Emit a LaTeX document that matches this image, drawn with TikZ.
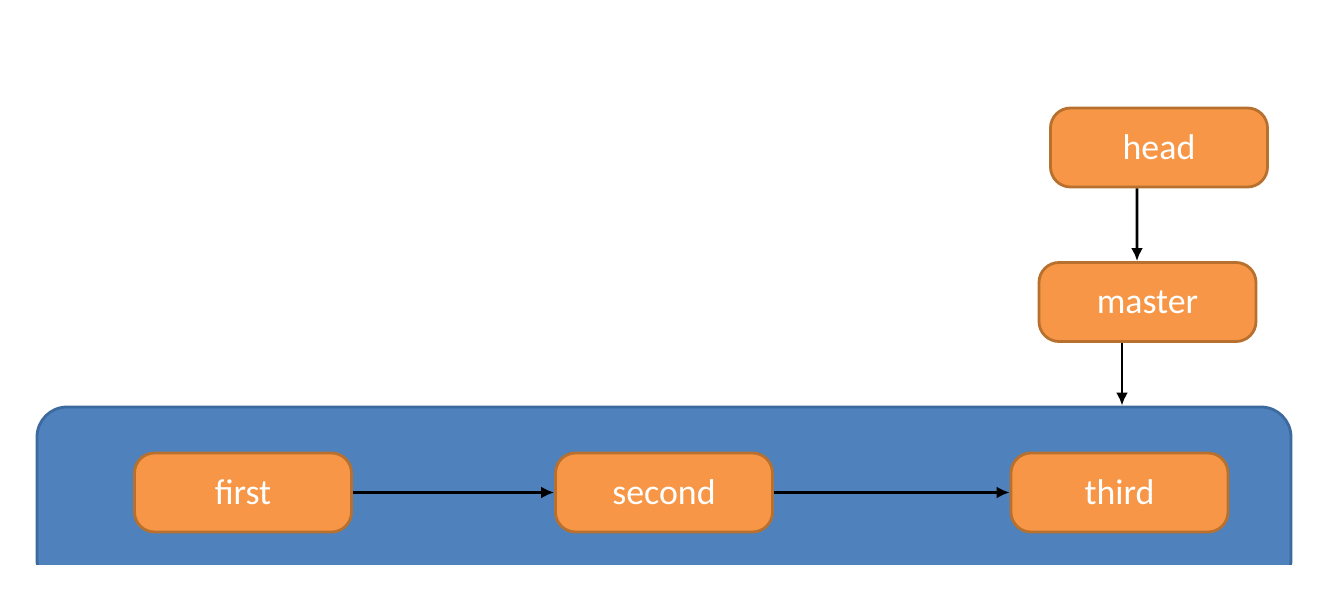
\documentclass[tikz,border=0pt]{standalone}
\usepackage{fontspec}
\setmainfont{Carlito}
\usetikzlibrary{positioning,arrows.meta}
\definecolor{boxorange}{HTML}{F79646}
\definecolor{boxedge}{HTML}{B8702E}
\definecolor{laneblue}{HTML}{4F81BD}
\definecolor{laneedge}{HTML}{3C6A9E}
\begin{document}
\begin{tikzpicture}[every node/.style={font=\fontsize{10.2pt}{12pt}\selectfont},
 ref/.style={rectangle,rounded corners=2mm,draw=boxedge,line width=0.8pt,fill=boxorange,
  text=white,minimum width=2.17cm,minimum height=0.79cm},
 arr/.style={-{Latex[length=1.3mm,width=1.2mm]},line width=0.8pt,black}]
\useasboundingbox (0,0) rectangle (13.38,-6.04);
\begin{scope}
\clip (0,0) rectangle (13.38,-5.65);
\node[rectangle,rounded corners=3mm,draw=laneedge,line width=0.8pt,fill=laneblue,
 minimum width=12.54cm,minimum height=1.83cm] (chain) at (6.64,-4.985) {};
\end{scope}
\node[ref] (head) at (11.59,-1.475) {head};
\node[ref] (master) at (11.475,-3.02) {master};
\node[ref] (first) at (2.43,-4.925) {first};
\node[ref] (second) at (6.64,-4.925) {second};
\node[ref] (third) at (11.195,-4.925) {third};
\draw[arr] ([xshift=-2.2mm]head.south) -- ([xshift=-1.05mm]master.north);
\draw[arr] ([xshift=-2.55mm]master.south) -- ([xshift=-2.55mm]master.south |- chain.north);
\draw[arr] (first) -- (second);
\draw[arr] (second) -- (third);
\end{tikzpicture}
\end{document}
